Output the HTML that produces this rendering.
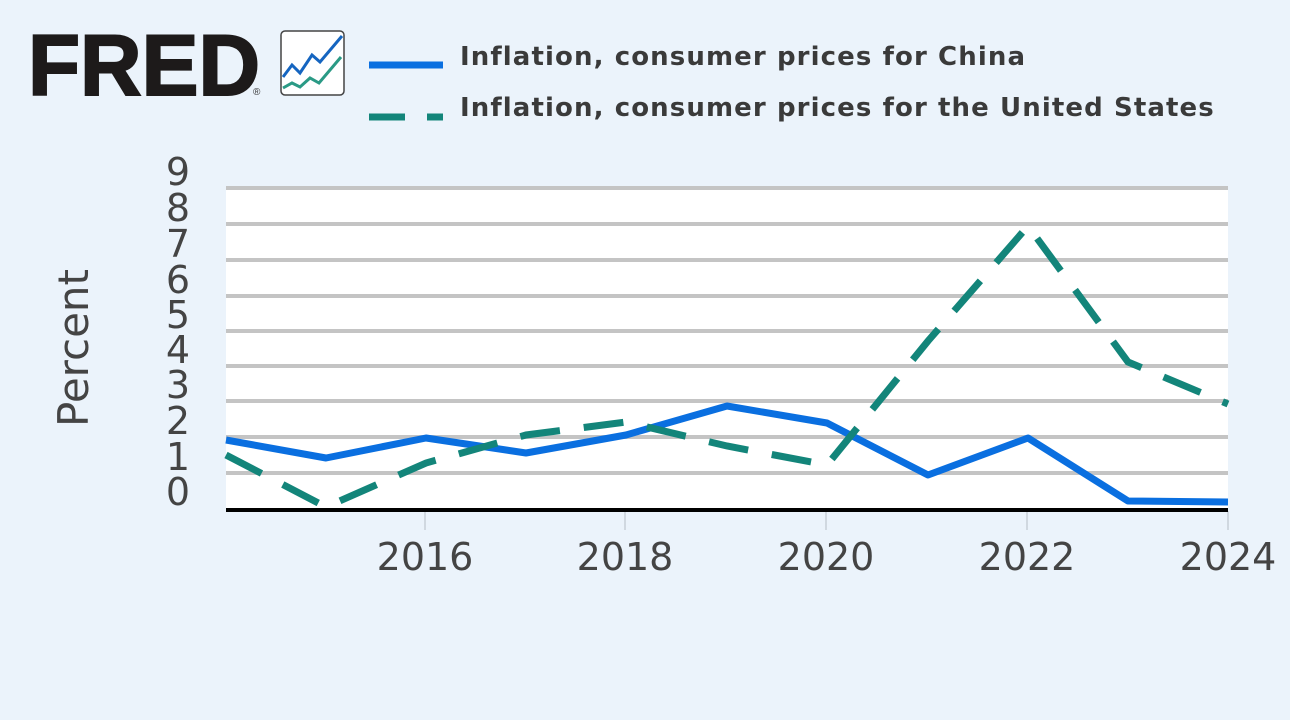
<!DOCTYPE html>
<html><head><meta charset="utf-8"><style>
body{margin:0;background:#ebf3fb;}
svg{display:block}
</style></head><body>
<svg width="1290" height="720" viewBox="0 0 1290 720" xmlns="http://www.w3.org/2000/svg">
<rect width="1290" height="720" fill="#ebf3fb"/>
<text x="28" y="95" font-family="Liberation Sans, sans-serif" font-weight="bold" font-size="86" fill="#1d1a1a" textLength="232" lengthAdjust="spacingAndGlyphs" stroke="#1d1a1a" stroke-width="2">FRED</text>
<text x="253" y="95" font-family="Liberation Sans, sans-serif" font-size="10" fill="#333">®</text>
<rect x="281" y="31" width="63" height="64" rx="4" fill="#fff" stroke="#444" stroke-width="1.5"/>
<polyline points="283,77 292,65 300,73 312,55 320,62 342,36" fill="none" stroke="#1565c0" stroke-width="3"/>
<polyline points="283,88 292,83 300,87 310,78 319,83 341,57" fill="none" stroke="#2a9a85" stroke-width="3"/>
<line x1="369" y1="65" x2="443" y2="65" stroke="#0a6fe0" stroke-width="7"/>
<line x1="369" y1="117" x2="443" y2="117" stroke="#13857a" stroke-width="7" stroke-dasharray="36,22"/>
<g font-family="DejaVu Sans, sans-serif" font-weight="bold" font-size="26" fill="#3a3a3a" letter-spacing="1.1">
<text x="460" y="65">Inflation, consumer prices for China</text>
<text x="460" y="116">Inflation, consumer prices for the United States</text>
</g>
<rect x="226" y="188" width="1002" height="321" fill="#fff"/>
<g stroke="#c4c4c4" stroke-width="4">
<line x1="226" y1="188" x2="1228" y2="188"/><line x1="226" y1="224" x2="1228" y2="224"/>
<line x1="226" y1="260" x2="1228" y2="260"/><line x1="226" y1="296" x2="1228" y2="296"/>
<line x1="226" y1="331" x2="1228" y2="331"/><line x1="226" y1="366" x2="1228" y2="366"/>
<line x1="226" y1="401" x2="1228" y2="401"/><line x1="226" y1="437" x2="1228" y2="437"/>
<line x1="226" y1="473" x2="1228" y2="473"/>
</g>
<g stroke="#d0d8e0" stroke-width="2">
<line x1="425" y1="511" x2="425" y2="530"/><line x1="625" y1="511" x2="625" y2="530"/>
<line x1="826" y1="511" x2="826" y2="530"/><line x1="1027" y1="511" x2="1027" y2="530"/>
<line x1="1228" y1="511" x2="1228" y2="530"/>
</g>
<line x1="226" y1="510" x2="1228" y2="510" stroke="#000" stroke-width="4"/>
<g font-family="DejaVu Sans, sans-serif" font-size="38" fill="#444" text-anchor="middle">
<text x="178" y="185">9</text><text x="178" y="221">8</text><text x="178" y="257">7</text>
<text x="178" y="293">6</text><text x="178" y="328">5</text><text x="178" y="363">4</text>
<text x="178" y="398">3</text><text x="178" y="434">2</text><text x="178" y="470">1</text>
<text x="178" y="505">0</text>
<text x="425" y="570">2016</text><text x="625" y="570">2018</text><text x="826" y="570">2020</text>
<text x="1027" y="570">2022</text><text x="1228" y="570">2024</text>
<text transform="translate(88,348) rotate(-90)" font-size="42">Percent</text>
</g>
<polyline points="226,440 326,458 426,438 526,453 626,435 727,406 827,423 928,475 1028,438 1128,501 1228,502" fill="none" stroke="#0a6fe0" stroke-width="7" stroke-linejoin="round"/>
<polyline points="226,455 326,507 426,463 526,435 626,422 727,446 827,465 928,341 1028,226 1128,362 1228,404" fill="none" stroke="#13857a" stroke-width="7" stroke-dasharray="40,24"/>
</svg>
</body></html>
